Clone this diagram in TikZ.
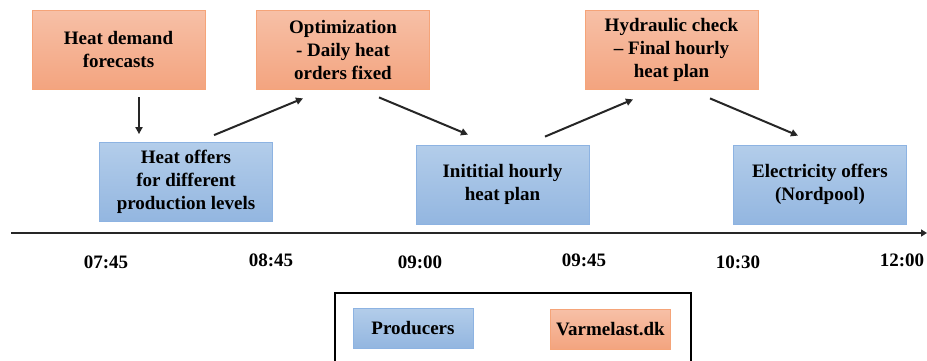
\documentclass[tikz,border=0pt]{standalone}
\usepackage{fontspec}
\setmainfont{Liberation Serif}[BoldFont={Liberation Serif Bold},ItalicFont={Liberation Serif Italic}]
\usetikzlibrary{arrows.meta}
\definecolor{otop}{HTML}{F7C0A7}
\definecolor{obot}{HTML}{F3A47F}
\definecolor{oline}{HTML}{F5A479}
\definecolor{btop}{HTML}{B3CDEA}
\definecolor{bbot}{HTML}{93B6E0}
\definecolor{bline}{HTML}{8DB3E2}
\definecolor{ink}{HTML}{262626}
\tikzset{
  obox/.style={draw=oline, line width=0.8pt, top color=otop, bottom color=obot, align=center, inner sep=0pt,
    font=\rmfamily\fontsize{19}{23}\selectfont\bfseries},
  bbox/.style={draw=bline, line width=0.8pt, top color=btop, bottom color=bbot, align=center, inner sep=0pt,
    font=\rmfamily\fontsize{19}{23}\selectfont\bfseries},
  big/.style={minimum width=173pt, minimum height=79pt},
  small/.style={minimum width=120pt, minimum height=40pt},
  arr/.style={draw=ink, line width=2pt, -{Triangle[length=7pt,width=7pt]}},
  tlabel/.style={font=\rmfamily\fontsize{19}{23}\selectfont\bfseries, inner sep=0pt}
}
\begin{document}
\begin{tikzpicture}[x=1pt,y=-1pt]
\useasboundingbox (0,0) rectangle (927,360);
% boxes
\node[obox,big] (hd) at (118.5,49.5) {Heat demand\\forecasts};
\node[obox,big] (opt) at (343,49.5) {Optimization\\- Daily heat\\orders fixed};
\node[obox,big] (hyd) at (671.5,49.5) {Hydraulic check\\– Final hourly\\heat plan};
\node[bbox,big] (ho) at (186,182) {Heat offers\\for different\\production levels};
\node[bbox,big] (init) at (502.5,184.5) {Inititial hourly\\heat plan};
\node[bbox,big] (el) at (820,184.5) {Electricity offers\\(Nordpool)};
% arrows
\draw[arr] ([xshift=20.5pt,yshift=-8pt]hd.south) -- ([xshift=-47pt,yshift=8pt]ho.north);
\draw[arr] ([xshift=28pt,yshift=7pt]ho.north) -- ([xshift=-40pt,yshift=-9pt]opt.south);
\draw[arr] ([xshift=36pt,yshift=-8pt]opt.south) -- ([xshift=-34.5pt,yshift=10pt]init.north);
\draw[arr] ([xshift=42.5pt,yshift=8pt]init.north) -- ([xshift=-38.5pt,yshift=-10pt]hyd.south);
\draw[arr] ([xshift=38.5pt,yshift=-9pt]hyd.south) -- ([xshift=-22pt,yshift=9pt]el.north);
% timeline
\coordinate (t0) at (11,233);
\coordinate (t1) at (927,233);
\draw[draw=ink, line width=2.6pt, -{Triangle[length=6pt,width=7pt]}] (t0) -- (t1);
\node[tlabel] (l1) at (106,262) {07:45};
\node[tlabel] (l2) at (271,260) {08:45};
\node[tlabel] (l3) at (420,262) {09:00};
\node[tlabel] (l4) at (584,260) {09:45};
\node[tlabel] (l5) at (738,262) {10:30};
\node[tlabel] (l6) at (902,260) {12:00};
% legend
\draw[black, line width=2.5pt] (335,365) -- (335,293) -- (691,293) -- (691,365);
\node[bbox,small] (lp) at (413,328) {Producers};
\node[obox,small] (lv) at (610.5,329) {Varmelast.dk};
\end{tikzpicture}
\end{document}
